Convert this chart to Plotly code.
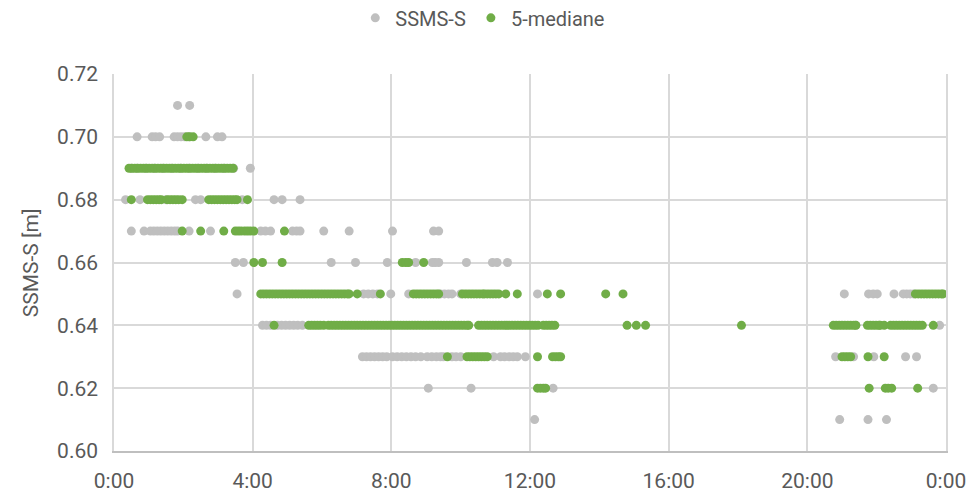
import plotly.graph_objects as go

# Time of day in minutes after midnight, grouped by reading level [m]

# SSMS-S raw readings
ssms_071 = [110, 131]
ssms_070 = [40, 66, 72, 79, 104, 110, 116, 122, 130, 159, 179, 187]
ssms_069 = [30, 40, 55, 70, 85, 100, 115, 130, 145, 160, 175, 190, 207, 236]
ssms_068 = [20, 45, 90, 141, 150, 222, 277, 291, 322]
ssms_067 = [30, 52, 63, 69, 75, 81, 87, 93, 99, 105, 110, 130, 167, 254, 262, 271,
            309, 316, 322, 363, 407, 482, 553, 562]
ssms_066 = [210, 224, 376, 418, 473, 522, 551, 556, 562, 610, 655, 663, 681]
ssms_065 = [213, 432, 440, 448, 456, 479, 510, 565, 572, 579, 585, 600, 733,
            1264, 1306, 1314, 1321, 1350, 1366, 1372, 1378, 1384]
ssms_064 = [257, 264, 271, 283, 290, 297, 304, 311, 318, 326, 1284, 1429]
ssms_063 = [430, 437, 444, 451, 458, 465, 472, 482, 490, 498, 506, 514, 522, 531,
            542, 550, 558, 565, 570, 585, 592, 600, 657, 669, 676, 684, 691, 698, 712,
            1249, 1280, 1315, 1370, 1389]
ssms_062 = [544, 618, 760, 1418]
ssms_061 = [728, 1256, 1305, 1337]

# 5-point median
med_070 = [126, 131, 137]
med_069 = [26, 31, 36, 41, 46, 51, 56, 61, 66, 71, 76, 81, 86, 91, 96, 101, 106, 111,
           116, 121, 126, 131, 136, 141, 146, 151, 156, 161, 166, 171, 176, 181, 186,
           191, 196, 201, 206]
med_068 = [30, 58, 63, 68, 73, 78, 82, 92, 97, 102, 107, 112, 118, 164, 169, 174, 179,
           184, 189, 194, 199, 204, 209, 213, 231]
med_067 = [118, 150, 190, 210, 215, 220, 226, 231, 236, 242, 295]
med_066 = [242, 257, 291, 499, 505, 510, 536]
med_065 = [254, 259, 264, 269, 274, 279, 284, 289, 294, 299, 304, 309, 314, 319, 324,
           329, 334, 339, 344, 349, 354, 359, 364, 369, 374, 379, 384, 389, 394, 399,
           404, 407, 421, 461, 518, 523, 528, 533, 538, 543, 548, 553, 558, 562, 603,
           608, 613, 618, 623, 628, 633, 638, 641, 646, 651, 656, 661, 666, 678, 698,
           750, 773, 851, 881, 1387, 1392, 1397, 1402, 1407, 1412, 1417, 1422, 1427,
           1432, 1435]
med_064 = [277, 337, 342, 347, 352, 357, 363, 371, 376, 381, 386, 391, 396, 401, 406,
           411, 416, 421, 426, 431, 436, 441, 446, 451, 456, 461, 466, 471, 476, 481,
           486, 491, 496, 501, 506, 511, 516, 521, 526, 531, 536, 541, 546, 551, 556,
           561, 566, 571, 576, 581, 586, 591, 596, 601, 606, 611, 614, 631, 636, 641,
           646, 651, 656, 661, 666, 671, 676, 680, 684, 689, 694, 699, 704, 709, 714,
           719, 724, 729, 734, 743, 748, 753, 758, 763, 888, 904, 920, 1086, 1245, 1250,
           1255, 1260, 1265, 1270, 1275, 1280, 1284, 1304, 1309, 1314, 1319, 1324, 1326,
           1333, 1344, 1349, 1354, 1359, 1364, 1369, 1374, 1379, 1384, 1389, 1394, 1399,
           1418]
med_063 = [577, 611, 616, 621, 626, 631, 636, 641, 646, 733, 759, 764, 769, 773, 1260,
           1265, 1270, 1275, 1305, 1333]
med_062 = [733, 738, 743, 747, 1307, 1335, 1340, 1346, 1391]

ssms_groups = [(0.71, ssms_071), (0.70, ssms_070), (0.69, ssms_069), (0.68, ssms_068),
               (0.67, ssms_067), (0.66, ssms_066), (0.65, ssms_065), (0.64, ssms_064),
               (0.63, ssms_063), (0.62, ssms_062), (0.61, ssms_061)]
med_groups = [(0.70, med_070), (0.69, med_069), (0.68, med_068), (0.67, med_067),
              (0.66, med_066), (0.65, med_065), (0.64, med_064), (0.63, med_063),
              (0.62, med_062)]

x_tick_minutes = [0, 240, 480, 720, 960, 1200, 1440]
x_tick_labels = ["0:00", "4:00", "8:00", "12:00", "16:00", "20:00", "0:00"]


def flatten(groups):
    xs, ys = [], []
    for level, times in groups:
        xs.extend(times)
        ys.extend([level] * len(times))
    return xs, ys


sx, sy = flatten(ssms_groups)
mx, my = flatten(med_groups)

FONT = "Roboto, sans-serif"
TEXT = "#595959"
GRID = "#d9d9d9"

fig = go.Figure()
fig.add_trace(go.Scatter(x=sx, y=sy, mode="markers", name="SSMS-S",
                         marker=dict(color="#bfbfbf", size=9, line=dict(width=0))))
fig.add_trace(go.Scatter(x=mx, y=my, mode="markers", name="5-mediane",
                         marker=dict(color="#70ad47", size=9, line=dict(width=0))))

fig.update_layout(
    width=976, height=496,
    margin=dict(l=114, r=30, t=74, b=45, autoexpand=False),
    paper_bgcolor="white", plot_bgcolor="white",
    font=dict(family=FONT, color=TEXT, size=21),
    showlegend=True,
    legend=dict(orientation="h", x=0.29, xanchor="left", y=1.149, yanchor="middle",
                font=dict(size=20, color=TEXT), itemsizing="trace",
                bgcolor="rgba(0,0,0,0)"),
    xaxis=dict(range=[0, 1440], tickvals=x_tick_minutes, ticktext=x_tick_labels,
               showgrid=True, gridcolor=GRID, gridwidth=1.5,
               showline=True, linecolor="#bfbfbf", linewidth=1.5,
               zeroline=False, ticks="", ticklabelstandoff=10,
               tickfont=dict(size=21, color=TEXT)),
    yaxis=dict(range=[0.60, 0.72], dtick=0.02, tick0=0.60, tickformat=".2f",
               showgrid=True, gridcolor=GRID, gridwidth=1.5,
               showline=True, linecolor=GRID, linewidth=1.5, mirror=True,
               zeroline=False, ticks="", ticklabelstandoff=10,
               tickfont=dict(size=21, color=TEXT)),
    annotations=[dict(text="SSMS-S [m]", textangle=-90, xref="paper", yref="paper",
                      x=-0.1, y=0.5, xanchor="center", yanchor="middle",
                      showarrow=False, font=dict(size=21, color=TEXT))],
)

fig.write_html("out.html")
